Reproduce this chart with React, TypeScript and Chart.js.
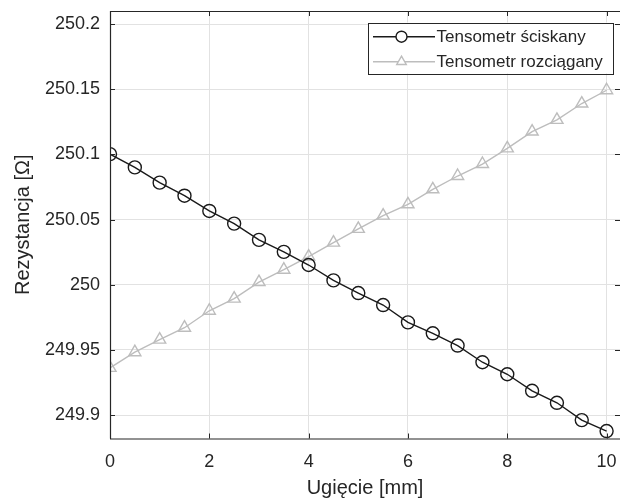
import React, { useEffect, useRef } from "react";
import { Chart, registerables } from "chart.js";

Chart.register(...registerables);

const deflection = [0, 0.5, 1, 1.5, 2, 2.5, 3, 3.5, 4, 4.5, 5, 5.5, 6, 6.5, 7, 7.5, 8, 8.5, 9, 9.5, 10];
const compressed = [250.1002, 250.09, 250.0783, 250.0683, 250.0566, 250.0469, 250.0344, 250.0252, 250.0151, 250.0033, 249.9936, 249.9844, 249.9711, 249.9627, 249.9533, 249.9405, 249.9313, 249.9186, 249.9094, 249.8961, 249.8877];
const stretched = [249.9362, 249.9482, 249.9579, 249.967, 249.98, 249.9893, 250.002, 250.0115, 250.0216, 250.0323, 250.0428, 250.053, 250.0617, 250.0732, 250.0834, 250.0926, 250.1046, 250.1175, 250.1265, 250.139, 250.1492];
const xTicks = [0, 2, 4, 6, 8, 10];
const yTicks = [249.9, 249.95, 250, 250.05, 250.1, 250.15, 250.2];
const seriesLabels = ["Tensometr ściskany", "Tensometr rozciągany"];
const xTitle = "Ugięcie [mm]";
const yTitle = "Rezystancja [Ω]";

const FONT = "'Liberation Sans', Arial, Helvetica, sans-serif";
const TEXT = "#262626";
const AXIS = "#262626";
const GRID = "#e2e2e2";
const C1 = "#1a1a1a";
const C2 = "#bdbdbd";

const insideTicks = {
  id: "insideTicks",
  afterDatasetsDraw(chart: any) {
    const { ctx, chartArea: a, scales } = chart;
    const len = 5;
    ctx.save();
    ctx.strokeStyle = AXIS;
    ctx.lineWidth = 1;
    ctx.beginPath();
    scales.x.ticks.forEach((t: any) => {
      const px = Math.round(scales.x.getPixelForValue(t.value)) + 0.5;
      ctx.moveTo(px, a.bottom);
      ctx.lineTo(px, a.bottom - len);
      ctx.moveTo(px, a.top);
      ctx.lineTo(px, a.top + len);
    });
    scales.y.ticks.forEach((t: any) => {
      const py = Math.round(scales.y.getPixelForValue(t.value)) + 0.5;
      ctx.moveTo(a.left, py);
      ctx.lineTo(a.left + len, py);
      ctx.moveTo(a.right, py);
      ctx.lineTo(a.right - len, py);
    });
    ctx.stroke();
    ctx.lineWidth = 1.2;
    ctx.beginPath();
    ctx.moveTo(a.left, a.top + 0.5);
    ctx.lineTo(a.right, a.top + 0.5);
    ctx.moveTo(a.left + 0.5, a.top);
    ctx.lineTo(a.left + 0.5, a.bottom);
    ctx.moveTo(a.left, a.bottom + 0.5);
    ctx.lineTo(a.right, a.bottom + 0.5);
    ctx.stroke();
    ctx.restore();
  },
};

const boxLegend = {
  id: "boxLegend",
  afterDraw(chart: any) {
    const { ctx, chartArea: a } = chart;
    const w = 245;
    const h = 51;
    const right = a.right - 7;
    const left = right - w;
    const top = a.top + 11.5;
    ctx.save();
    ctx.fillStyle = "#ffffff";
    ctx.fillRect(left, top, w, h);
    ctx.strokeStyle = AXIS;
    ctx.lineWidth = 1;
    ctx.strokeRect(Math.round(left) + 0.5, Math.round(top) + 0.5, w, h);
    chart.data.datasets.forEach((ds: any, i: number) => {
      const y = top + 14.2 + i * 25;
      ctx.strokeStyle = ds.borderColor;
      ctx.lineWidth = ds.borderWidth;
      ctx.beginPath();
      ctx.moveTo(left + 5, y);
      ctx.lineTo(left + 67, y);
      ctx.stroke();
      const mx = left + 33.5;
      const r = 5.5;
      ctx.fillStyle = "#ffffff";
      ctx.strokeStyle = ds.pointBorderColor;
      ctx.lineWidth = ds.pointBorderWidth;
      ctx.beginPath();
      if (ds.pointStyle === "triangle") {
        ctx.moveTo(mx, y - r);
        ctx.lineTo(mx + r * 0.866, y + r * 0.5);
        ctx.lineTo(mx - r * 0.866, y + r * 0.5);
        ctx.closePath();
      } else {
        ctx.arc(mx, y, r, 0, Math.PI * 2);
      }
      ctx.fill();
      ctx.stroke();
      ctx.fillStyle = TEXT;
      ctx.font = `17px ${FONT}`;
      ctx.textBaseline = "middle";
      ctx.textAlign = "left";
      ctx.fillText(ds.label, left + 68.5, y + 1);
    });
    ctx.restore();
  },
};

export default function App() {
  const ref = useRef<HTMLCanvasElement>(null);
  useEffect(() => {
    if (!ref.current) return;
    const chart = new Chart(ref.current, {
      type: "line",
      data: {
        datasets: [
          {
            label: seriesLabels[0],
            data: deflection.map((x, i) => ({ x, y: compressed[i] })),
            borderColor: C1,
            borderWidth: 1.4,
            pointStyle: "circle",
            pointRadius: 6.5,
            pointBorderColor: C1,
            pointBorderWidth: 1.4,
            pointBackgroundColor: "rgba(0,0,0,0)",
            fill: false,
            tension: 0,
          },
          {
            label: seriesLabels[1],
            data: deflection.map((x, i) => ({ x, y: stretched[i] })),
            borderColor: C2,
            borderWidth: 1.4,
            pointStyle: "triangle",
            pointRadius: 7,
            pointBorderColor: C2,
            pointBorderWidth: 1.4,
            pointBackgroundColor: "rgba(0,0,0,0)",
            fill: false,
            tension: 0,
          },
        ],
      },
      options: {
        animation: false,
        responsive: false,
        devicePixelRatio: 1,
        layout: { autoPadding: false, padding: { top: 11, right: 0, bottom: 0, left: 0 } },
        plugins: { legend: { display: false }, tooltip: { enabled: false } },
        scales: {
          x: {
            type: "linear",
            min: 0,
            max: 10.27,
            afterBuildTicks: (s: any) => {
              s.ticks = xTicks.map((v) => ({ value: v }));
            },
            afterFit: (s: any) => {
              s.height = 61.5;
              s.paddingLeft = 0;
              s.paddingRight = 0;
            },
            ticks: {
              color: TEXT,
              font: { family: FONT, size: 18 },
              padding: 13,
              maxRotation: 0,
              callback: (v: any) => String(v),
            },
            grid: { color: GRID, drawTicks: false, lineWidth: 1 },
            border: { display: false },
            title: {
              display: true,
              text: xTitle,
              color: TEXT,
              font: { family: FONT, size: 20 },
              padding: { top: 0, bottom: 0 },
            },
          },
          y: {
            type: "linear",
            min: 249.882,
            max: 250.21,
            afterBuildTicks: (s: any) => {
              s.ticks = yTicks.map((v) => ({ value: v }));
            },
            afterFit: (s: any) => {
              s.width = 110;
              s.paddingTop = 0;
              s.paddingBottom = 0;
            },
            ticks: {
              color: TEXT,
              font: { family: FONT, size: 18 },
              padding: 10,
              callback: (v: any) => String(Number(Number(v).toFixed(3))),
            },
            grid: { color: GRID, drawTicks: false, lineWidth: 1 },
            border: { display: false },
            title: {
              display: true,
              text: yTitle,
              color: TEXT,
              font: { family: FONT, size: 20 },
              padding: { top: 11, bottom: 0 },
            },
          },
        },
      },
      plugins: [insideTicks, boxLegend],
    });
    return () => chart.destroy();
  }, []);
  return (
    <div style={{ position: "fixed", left: 0, top: 0, width: 620, height: 500, background: "#fff" }}>
      <canvas ref={ref} width={620} height={500} style={{ width: 620, height: 500, display: "block" }} />
    </div>
  );
}
